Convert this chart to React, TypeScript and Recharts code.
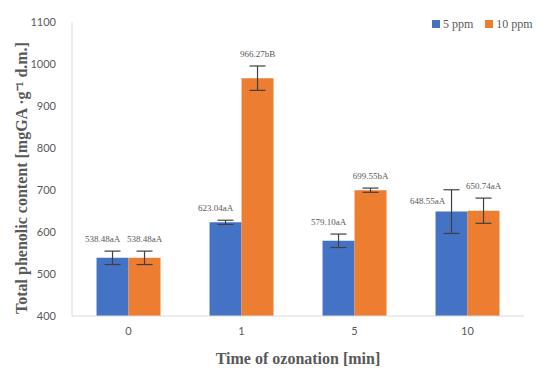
import React from 'react';
import { BarChart, Bar, XAxis, YAxis, ErrorBar, LabelList } from 'recharts';

const categories = ['0', '1', '5', '10'];
const ppm5 = [538.48, 623.04, 579.1, 648.55];
const ppm10 = [538.48, 966.27, 699.55, 650.74];
const err5 = [16, 5, 16, 52];
const err10 = [16, 29, 5, 30];
const labels5 = ['538.48aA', '623.04aA', '579.10aA', '648.55aA'];
const labels10 = ['538.48aA', '966.27bB', '699.55bA', '650.74aA'];
const yTicks = [400, 500, 600, 700, 800, 900, 1000, 1100];

const BLUE = '#4472C4';
const ORANGE = '#ED7D31';
const SERIF = '"Book Antiqua", Palatino, "Liberation Serif", serif';
const SANS = 'Lato, "Open Sans", sans-serif';

const data = categories.map((c, i) => ({
  time: c,
  p5: ppm5[i],
  p10: ppm10[i],
  e5: err5[i],
  e10: err10[i],
  l5: labels5[i],
  l10: labels10[i],
}));

// value labels sit over the error bar; blue ones are nudged left like in the original
const makeLabel = (values: number[], errs: number[], nudge: number) => (props: any) => {
  const { x, y, width, height, index, value } = props;
  const v = values[index];
  const ratio = height / (v - 400);
  const errTop = y - errs[index] * ratio;
  const cx = x + width / 2;
  if (errs[index] > 40) {
    return (
      <text x={cx - 24} y={y - 8} textAnchor="middle" fontSize={9} fill="#595959" fontFamily={SERIF}>
        {value}
      </text>
    );
  }
  return (
    <text x={cx + nudge} y={errTop - 9} textAnchor="middle" fontSize={9} fill="#595959" fontFamily={SERIF}>
      {value}
    </text>
  );
};

const yTitle = () => (
  <text
    x={21}
    y={178}
    transform="rotate(-90 21 178)"
    textAnchor="middle"
    dominantBaseline="central"
    fill="#595959"
    fontSize={16}
    fontWeight={700}
    fontFamily={SERIF}
  >
    Total phenolic content [mgGA ·g⁻¹ d.m.]
  </text>
);

const legendItems = [
  { c: BLUE, t: '5 ppm' },
  { c: ORANGE, t: '10 ppm' },
];

export default function App() {
  return (
    <div style={{ position: 'absolute', left: 0, top: 0, width: 550, height: 370, background: '#fff' }}>
      <BarChart
        width={550}
        height={370}
        data={data}
        margin={{ top: 22, right: 26, left: 22, bottom: 24 }}
        barCategoryGap="21.7%"
        barGap={0}
      >
        <XAxis
          dataKey="time"
          axisLine={{ stroke: '#d9d9d9' }}
          tickLine={false}
          tick={{ fill: '#595959', fontSize: 11, fontFamily: SANS }}
          tickMargin={5}
          height={30}
          label={{
            value: 'Time of ozonation [min]',
            position: 'insideBottom',
            offset: -18,
            style: { fill: '#595959', fontSize: 16, fontWeight: 700, fontFamily: SERIF },
          }}
        />
        <YAxis
          domain={[400, 1100]}
          ticks={yTicks}
          width={50}
          axisLine={{ stroke: '#d9d9d9' }}
          tickLine={false}
          tick={{ fill: '#595959', fontSize: 11, fontFamily: SANS }}
          tickMargin={10}
          label={{ content: yTitle }}
        />
        <Bar dataKey="p5" name="5 ppm" fill={BLUE} isAnimationActive={false}>
          <ErrorBar dataKey="e5" width={8} stroke="#404040" strokeWidth={1.2} />
          <LabelList dataKey="l5" content={makeLabel(ppm5, err5, -10)} />
        </Bar>
        <Bar dataKey="p10" name="10 ppm" fill={ORANGE} isAnimationActive={false}>
          <ErrorBar dataKey="e10" width={8} stroke="#404040" strokeWidth={1.2} />
          <LabelList dataKey="l10" content={makeLabel(ppm10, err10, 0)} />
        </Bar>
      </BarChart>
      <div
        style={{
          position: 'absolute',
          left: 432,
          top: 16,
          display: 'flex',
          gap: 12,
          fontFamily: SERIF,
          fontSize: 12,
          color: '#595959',
          lineHeight: '16px',
        }}
      >
        {legendItems.map((it) => (
          <span key={it.t} style={{ display: 'flex', alignItems: 'center', gap: 3 }}>
            <span style={{ width: 8, height: 8, background: it.c, display: 'inline-block' }} />
            {it.t}
          </span>
        ))}
      </div>
    </div>
  );
}
